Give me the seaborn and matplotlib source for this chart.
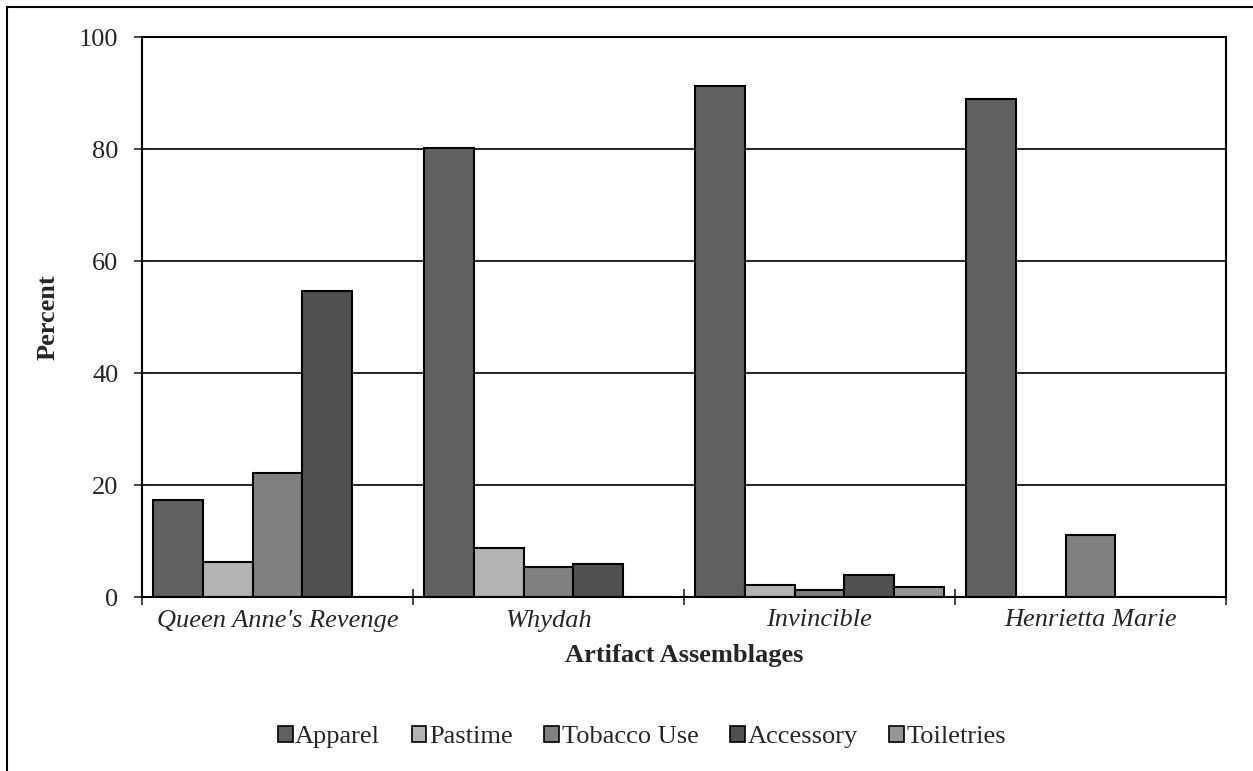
import pandas as pd
import matplotlib.pyplot as plt
import seaborn as sns
from matplotlib.patches import Rectangle

sites = ["Queen Anne's Revenge", "Whydah", "Invincible", "Henrietta Marie"]
categories = ["Apparel", "Pastime", "Tobacco Use", "Accessory", "Toiletries"]
colors = ["#606060", "#b3b3b3", "#808080", "#505050", "#969696"]

apparel = [17.3, 80.2, 91.2, 88.9]
pastime = [6.2, 8.7, 2.1, 0.0]
tobacco = [22.1, 5.3, 1.3, 11.1]
accessory = [54.6, 5.9, 3.9, 0.0]
toiletries = [0.0, 0.0, 1.8, 0.0]

rows = []
for cat, vals in zip(categories, [apparel, pastime, tobacco, accessory, toiletries]):
    for s, v in zip(sites, vals):
        rows.append({"site": s, "cat": cat, "pct": v})
data = pd.DataFrame(rows)

sns.set_style("white")
plt.rcParams['font.family'] = ['Liberation Serif', 'DejaVu Serif']
FS = 19

fig = plt.figure(figsize=(12.53, 7.71), dpi=100)
W, H = 1253, 771
ax = fig.add_axes([142 / W, 1 - 597 / H, (1226 - 142) / W, (597 - 37) / H])

sns.barplot(data=data, x="site", y="pct", hue="cat", order=sites, hue_order=categories,
            palette=colors, edgecolor="black", linewidth=1.5, width=0.92, gap=0,
            errorbar=None, saturation=1, ax=ax, legend=False)

ax.set_ylim(0, 100)
ax.set_xlim(-0.5, 3.5)
ax.set_yticks([0, 20, 40, 60, 80, 100])
ax.yaxis.grid(True, color="black", linewidth=1.2)
ax.set_axisbelow(True)
for sp in ax.spines.values():
    sp.set_color("black")
    sp.set_linewidth(1.5)

ax.tick_params(axis="y", direction="inout", length=12, width=1.2, labelsize=FS, pad=11, left=True)
ax.tick_params(axis="x", which="major", length=0, labelsize=FS, pad=9)
ax.set_xticks([-0.5, 0.5, 1.5, 2.5, 3.5], minor=True)
ax.tick_params(axis="x", which="minor", direction="inout", length=12, width=1.2, bottom=True)
for lbl in ax.get_xticklabels():
    lbl.set_fontstyle("italic")

ax.set_ylabel("Percent", fontsize=FS, fontweight="bold", labelpad=14)
ax.set_xlabel("Artifact Assemblages", fontsize=FS, fontweight="bold", labelpad=9)

handles = [Rectangle((0, 0), 1, 1, facecolor=c, edgecolor="black", linewidth=1.2) for c in colors]
fig.legend(handles, categories, loc="center", bbox_to_anchor=(642 / W, 1 - 737 / H), ncol=5,
           frameon=False, fontsize=FS, handlelength=0.55, handleheight=0.55, handletextpad=0.1,
           columnspacing=1.2)

# chart area border
fig.add_artist(Rectangle((7 / W, -0.1), 1.2, 1 - 7 / H + 0.1, transform=fig.transFigure,
                         fill=False, edgecolor="black", linewidth=1.5))

plt.savefig("out.png", dpi=100)
